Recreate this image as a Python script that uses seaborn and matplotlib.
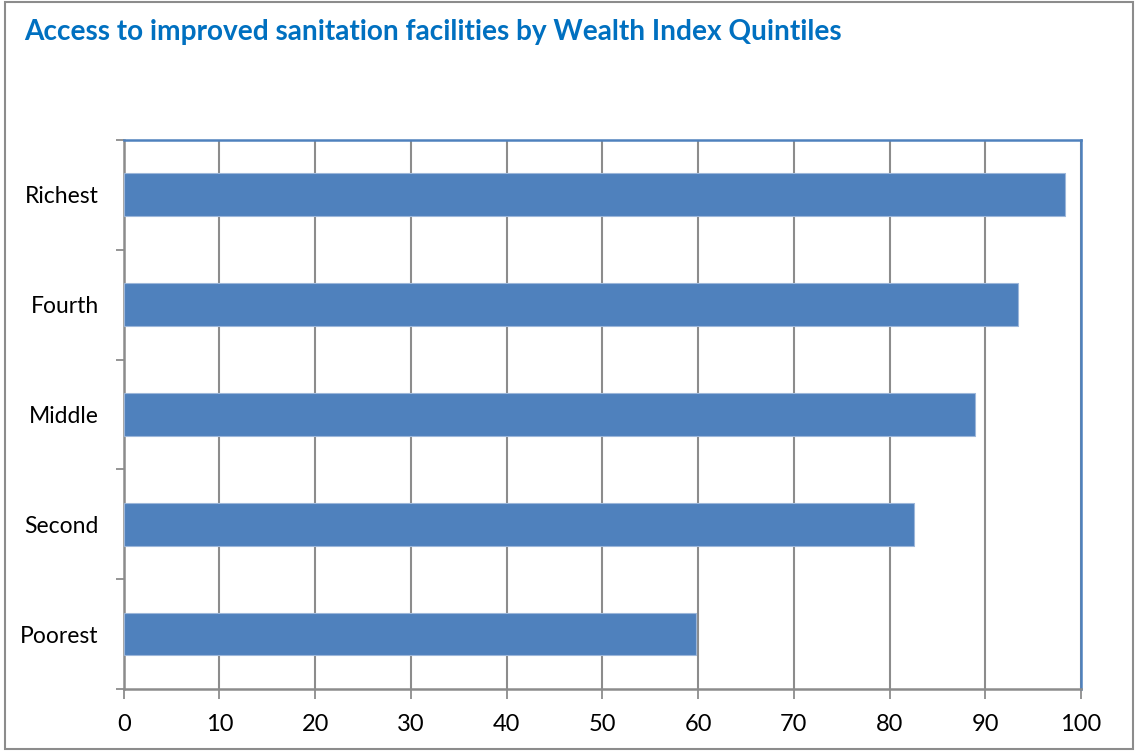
import pandas as pd
import matplotlib.pyplot as plt
import seaborn as sns
from matplotlib.ticker import MultipleLocator, FixedLocator

# values (% of households)
quintiles = ["Richest", "Fourth", "Middle", "Second", "Poorest"]
access_pct = [98.3, 93.4, 88.9, 82.6, 59.8]
x_ticks = [0, 10, 20, 30, 40, 50, 60, 70, 80, 90, 100]

title = "Access to improved sanitation facilities by Wealth Index Quintiles"
bar_color = "#4F81BD"
grid_color = "#8C8C8C"

df = pd.DataFrame({"quintile": quintiles, "pct": access_pct})

sns.set_style("white")
plt.rcParams["font.family"] = ["Lato", "DejaVu Sans"]

fig = plt.figure(figsize=(11.35, 7.51), dpi=100)
ax = fig.add_axes([0.109, 0.0826, 0.8434, 0.731])

sns.barplot(data=df, x="pct", y="quintile", order=quintiles, orient="h",
            color=bar_color, saturation=1, width=0.39,
            edgecolor="#9DB7DA", linewidth=0.8, ax=ax, zorder=3)

ax.set_xlim(0, 100)
ax.set_ylim(4.5, -0.5)
ax.xaxis.set_major_locator(FixedLocator(x_ticks))
ax.yaxis.set_minor_locator(MultipleLocator(1, offset=0.5))
ax.grid(axis="x", color=grid_color, linewidth=1.5, zorder=0)
ax.set_xlabel("")
ax.set_ylabel("")

ax.tick_params(axis="x", which="major", length=7, width=1.3, color=grid_color,
               direction="out", pad=11, labelsize=17, labelcolor="black", bottom=True)
ax.tick_params(axis="y", which="major", length=0, pad=18, labelsize=16.5, labelcolor="black")
ax.tick_params(axis="y", which="minor", length=6, width=1.3, color=grid_color,
               direction="out", left=True)

for side in ["top", "right"]:
    ax.spines[side].set_color(bar_color)
    ax.spines[side].set_linewidth(1.8)
for side in ["left", "bottom"]:
    ax.spines[side].set_color(grid_color)
    ax.spines[side].set_linewidth(1.8)

fig.text(0.021, 0.957, title, fontsize=20.2, fontweight="bold", color="#0070C0",
         ha="left", va="center")

# thin frame around the whole chart area
fig.patches.append(plt.Rectangle((0.004, 0.003), 0.994, 0.994, transform=fig.transFigure,
                                 fill=False, edgecolor="#8C8C8C", linewidth=1.5))

fig.savefig("out.png", dpi=100)
